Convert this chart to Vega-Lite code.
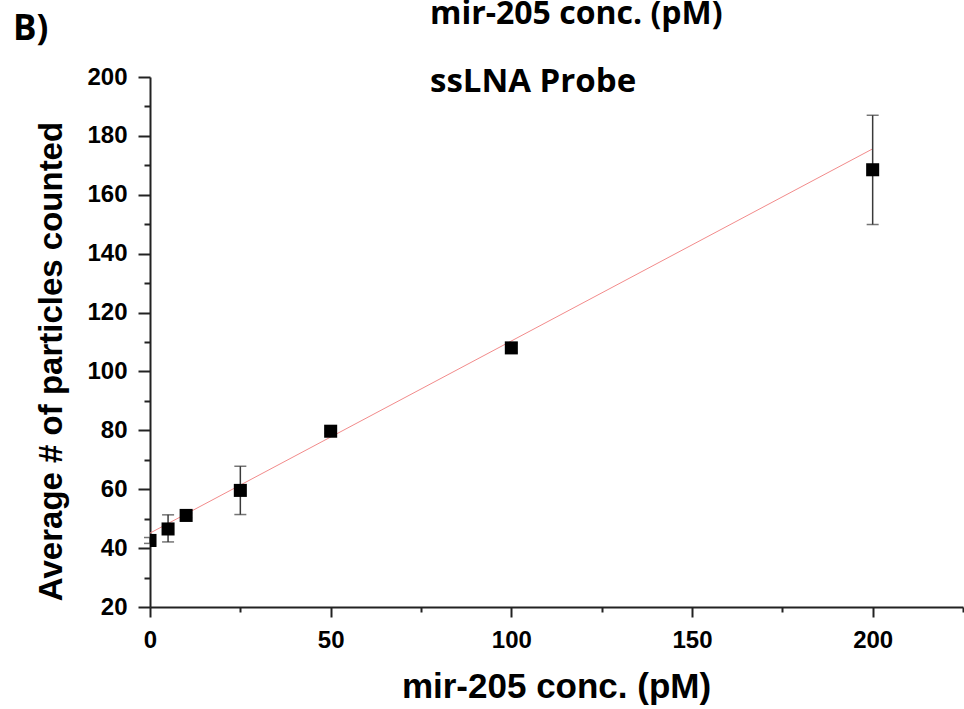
{
  "$schema": "https://vega.github.io/schema/vega-lite/v6.json",
  "width": 813,
  "height": 530,
  "autosize": "none",
  "padding": {"left": 150, "top": 77, "right": 1, "bottom": 102},
  "background": "white",
  "config": {"view": {"stroke": null}},
  "title": {
    "text": "mir-205 conc. (pM)",
    "subtitle": "ssLNA Probe",
    "anchor": "start",
    "frame": "group",
    "dx": 280,
    "font": "Open Sans",
    "fontSize": 32,
    "fontWeight": "bold",
    "color": "black",
    "subtitleFont": "Open Sans",
    "subtitleFontSize": 33,
    "subtitleFontWeight": "bold",
    "subtitleColor": "black",
    "subtitlePadding": 35,
    "offset": -88
  },
  "datasets": {
    "points": [
      {"conc": 0, "mean": 42.6, "errUp": 1.0, "errDown": -1.0},
      {"conc": 5, "mean": 46.5, "errUp": 4.8, "errDown": -4.4},
      {"conc": 10, "mean": 51.1, "errUp": 0.8, "errDown": -0.8},
      {"conc": 25, "mean": 59.6, "errUp": 8.2, "errDown": -8.2},
      {"conc": 50, "mean": 79.7, "errUp": 0.7, "errDown": -0.7},
      {"conc": 100, "mean": 108.0, "errUp": 1.5, "errDown": -1.5},
      {"conc": 200, "mean": 168.5, "errUp": 18.5, "errDown": -18.6}
    ],
    "fit": [
      {"conc": 0, "mean": 45.1},
      {"conc": 200, "mean": 175.6}
    ],
    "panel": [
      {"label": "B)"}
    ]
  },
  "layer": [
    {
      "encoding": {
        "x": {
          "field": "conc", "type": "quantitative",
          "scale": {"domain": [0, 225], "nice": false, "zero": false},
          "title": "mir-205 conc. (pM)",
          "axis": {
            "values": [0, 25, 50, 75, 100, 125, 150, 175, 200, 225],
            "labelExpr": "datum.value % 50 === 0 && datum.value <= 200 ? datum.label : ''",
            "tickSize": {"condition": {"test": "datum.value % 50 === 0", "value": 10}, "value": 5},
            "grid": false,
            "domainColor": "#222", "domainWidth": 2,
            "tickColor": "#222", "tickWidth": 2,
            "labelFont": "Liberation Sans", "labelFontSize": 24, "labelFontWeight": "bold", "labelColor": "black",
            "labelPadding": 11, "labelFlush": false, "labelOverlap": false,
            "titleFont": "Liberation Sans", "titleFontSize": 35, "titleFontWeight": "bold", "titleColor": "black",
            "titleBaseline": "alphabetic", "titleY": 90, "titleX": 406, "titleAlign": "center"
          }
        },
        "y": {
          "field": "mean", "type": "quantitative",
          "scale": {"domain": [20, 200], "nice": false, "zero": false},
          "title": "Average # of particles counted",
          "axis": {
            "values": [20, 30, 40, 50, 60, 70, 80, 90, 100, 110, 120, 130, 140, 150, 160, 170, 180, 190, 200],
            "labelExpr": "datum.value % 20 === 0 ? datum.label : ''",
            "tickSize": {"condition": {"test": "datum.value % 20 === 0", "value": 12}, "value": 6},
            "grid": false,
            "domainColor": "#222", "domainWidth": 2,
            "tickColor": "#222", "tickWidth": 2,
            "labelFont": "Liberation Sans", "labelFontSize": 24, "labelFontWeight": "bold", "labelColor": "black",
            "labelPadding": 11, "labelFlush": false, "labelOverlap": false,
            "titleFont": "Liberation Sans", "titleFontSize": 33, "titleFontWeight": "bold", "titleColor": "black",
            "titleBaseline": "alphabetic", "titleAlign": "center", "titleAngle": -90,
            "titleX": -89, "titleY": 284
          }
        }
      },
      "layer": [
        {
          "data": {"name": "fit"},
          "mark": {"type": "line", "color": "#f28b8b", "strokeWidth": 1}
        },
        {
          "data": {"name": "points"},
          "mark": {"type": "errorbar", "color": "#3a3a3a", "thickness": 1.5, "ticks": {"size": 12}},
          "encoding": {
            "yError": {"field": "errUp"},
            "yError2": {"field": "errDown"}
          }
        },
        {
          "data": {"name": "points"},
          "mark": {"type": "point", "shape": "square", "filled": true, "size": 170, "color": "black", "opacity": 1, "clip": true}
        }
      ]
    },
    {
      "data": {"name": "panel"},
      "mark": {"type": "text", "font": "Open Sans", "fontSize": 35, "fontWeight": "bold", "color": "black", "align": "left", "baseline": "alphabetic"},
      "encoding": {
        "x": {
          "datum": -37.9, "type": "quantitative",
          "title": "mir-205 conc. (pM)",
          "axis": {
            "values": [0, 25, 50, 75, 100, 125, 150, 175, 200, 225],
            "labelExpr": "datum.value % 50 === 0 && datum.value <= 200 ? datum.label : ''",
            "tickSize": {"condition": {"test": "datum.value % 50 === 0", "value": 10}, "value": 5},
            "grid": false,
            "domainColor": "#222", "domainWidth": 2,
            "tickColor": "#222", "tickWidth": 2,
            "labelFont": "Liberation Sans", "labelFontSize": 24, "labelFontWeight": "bold", "labelColor": "black",
            "labelPadding": 11, "labelFlush": false, "labelOverlap": false,
            "titleFont": "Liberation Sans", "titleFontSize": 35, "titleFontWeight": "bold", "titleColor": "black",
            "titleBaseline": "alphabetic", "titleY": 90, "titleX": 406, "titleAlign": "center"
          }
        },
        "y": {
          "datum": 212.6, "type": "quantitative",
          "title": "Average # of particles counted",
          "axis": {
            "values": [20, 30, 40, 50, 60, 70, 80, 90, 100, 110, 120, 130, 140, 150, 160, 170, 180, 190, 200],
            "labelExpr": "datum.value % 20 === 0 ? datum.label : ''",
            "tickSize": {"condition": {"test": "datum.value % 20 === 0", "value": 12}, "value": 6},
            "grid": false,
            "domainColor": "#222", "domainWidth": 2,
            "tickColor": "#222", "tickWidth": 2,
            "labelFont": "Liberation Sans", "labelFontSize": 24, "labelFontWeight": "bold", "labelColor": "black",
            "labelPadding": 11, "labelFlush": false, "labelOverlap": false,
            "titleFont": "Liberation Sans", "titleFontSize": 33, "titleFontWeight": "bold", "titleColor": "black",
            "titleBaseline": "alphabetic", "titleAlign": "center", "titleAngle": -90,
            "titleX": -89, "titleY": 284
          }
        },
        "text": {"field": "label"}
      }
    }
  ]
}
